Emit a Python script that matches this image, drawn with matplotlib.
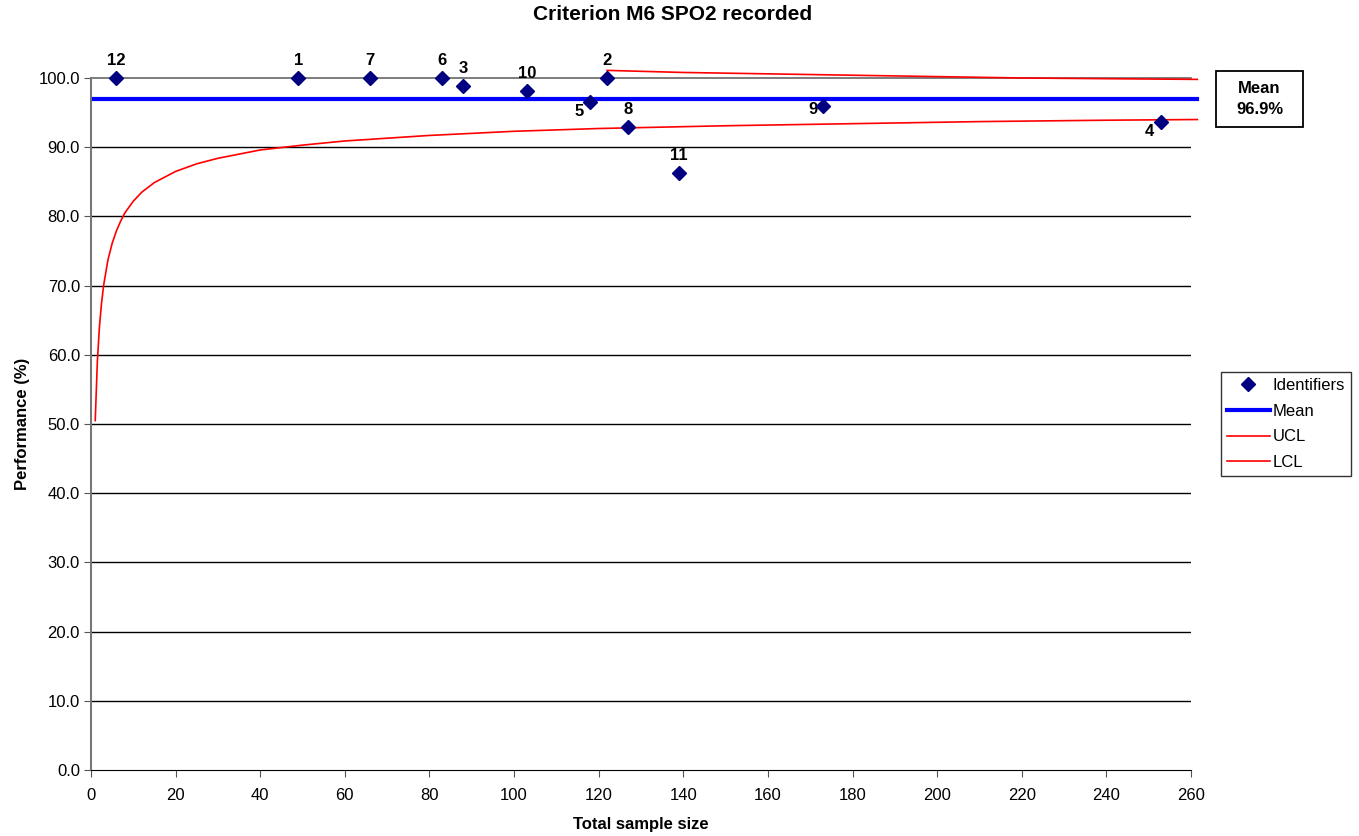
import matplotlib
matplotlib.use('Agg')
import matplotlib.pyplot as plt
from matplotlib.patches import Rectangle

plt.rcParams['font.family'] = ['Liberation Sans', 'DejaVu Sans']

# Identifiers: total sample size and performance (%)
ids = ['12', '1', '7', '6', '3', '10', '5', '2', '8', '11', '9', '4']
sample_size = [6, 49, 66, 83, 88, 103, 118, 122, 127, 139, 173, 253]
performance = [100.0, 100.0, 100.0, 100.0, 98.9, 98.1, 96.6, 100.0, 92.9, 86.3, 96.0, 93.7]
# label placement: 'above', 'below-left', 'left'
label_pos = ['above', 'above', 'above', 'above', 'above', 'above', 'below-left',
             'above', 'above', 'above', 'left', 'below-left']

mean_value = 96.9
mean_x = [0.8, 261.5]

# control limits
lcl_x = [1, 1.5, 2, 2.5, 3, 4, 5, 6, 7, 8, 10, 12, 15, 20, 25, 30, 40, 50, 60,
         80, 100, 120, 150, 180, 210, 240, 261.5]
lcl_y = [50.5, 59.0, 64.1, 67.5, 70.1, 73.7, 76.1, 77.9, 79.3, 80.5, 82.2, 83.5,
         84.9, 86.5, 87.6, 88.4, 89.6, 90.3, 90.9, 91.7, 92.3, 92.7, 93.1, 93.4,
         93.7, 93.9, 94.0]
ucl_x = [122, 140, 160, 180, 200, 220, 240, 261.5]
ucl_y = [101.1, 100.8, 100.6, 100.4, 100.2, 100.0, 99.9, 99.8]

W, H = 1359, 836
fig = plt.figure(figsize=(W / 100, H / 100), dpi=100)
ax = fig.add_axes([91 / W, 66 / H, 1100 / W, 692 / H])

ax.set_xlim(0, 260)
ax.set_ylim(0, 100)
ax.set_xticks(range(0, 261, 20))
ax.set_yticks(range(0, 101, 10))
ax.set_yticklabels(['%.1f' % v for v in range(0, 101, 10)])
ax.tick_params(labelsize=12, length=5, color='#555555')
ax.tick_params(axis='x', pad=8)
ax.tick_params(axis='y', pad=3)

for v in range(10, 100, 10):
    ax.axhline(v, color='black', lw=1, zorder=1)
ax.axhline(100, color='#666666', lw=1.2, zorder=1, clip_on=False)

for s in ['top', 'right']:
    ax.spines[s].set_visible(False)
ax.spines['left'].set_color('#777777')
ax.spines['left'].set_linewidth(1.5)
ax.spines['bottom'].set_color('black')

ax.plot(mean_x, [mean_value, mean_value], color='#0000ff', lw=3, label='Mean',
        zorder=3, clip_on=False)
ax.plot(ucl_x, ucl_y, color='#ff0000', lw=1.2, label='UCL', zorder=3, clip_on=False)
ax.plot(lcl_x, lcl_y, color='#ff0000', lw=1.2, label='LCL', zorder=3, clip_on=False)
ax.plot(sample_size, performance, 'D', color='#000080', markersize=6.8,
        label='Identifiers', zorder=4, clip_on=False)

for name, x, y, pos in zip(ids, sample_size, performance, label_pos):
    if pos == 'above':
        ax.annotate(name, (x, y), xytext=(0, 7), textcoords='offset points',
                    ha='center', va='bottom', fontsize=12, fontweight='bold')
    elif pos == 'below-left':
        ax.annotate(name, (x, y), xytext=(-5, -2), textcoords='offset points',
                    ha='right', va='top', fontsize=12, fontweight='bold')
    else:
        ax.annotate(name, (x, y), xytext=(-4, -3), textcoords='offset points',
                    ha='right', va='center', fontsize=12, fontweight='bold')

handles, labels = ax.get_legend_handles_labels()
order = [3, 0, 1, 2]
leg = ax.legend([handles[i] for i in order], [labels[i] for i in order],
                loc='center left', bbox_to_anchor=(1.027, 0.50), fontsize=12,
                frameon=True, fancybox=False, edgecolor='black',
                handlelength=2.6, handletextpad=0.15, borderpad=0.35,
                labelspacing=0.65, borderaxespad=0)
leg.get_frame().set_linewidth(1)

# mean box
fig.add_artist(Rectangle((1216 / W, 1 - 127 / H), 87 / W, 56 / H,
                         transform=fig.transFigure, facecolor='white',
                         edgecolor='black', linewidth=1.3))
fig.text(1259.5 / W, 1 - 99 / H, 'Mean\n96.9%', ha='center', va='center',
         fontsize=12, fontweight='bold', linespacing=1.5)

fig.text(673 / W, 1 - 15 / H, 'Criterion M6 SPO2 recorded', ha='center',
         va='center', fontsize=15, fontweight='bold')
ax.set_xlabel('Total sample size', fontsize=12, fontweight='bold', labelpad=10)
ax.set_ylabel('Performance (%)', fontsize=12, fontweight='bold', labelpad=6)

fig.savefig('out.png', dpi=100)
